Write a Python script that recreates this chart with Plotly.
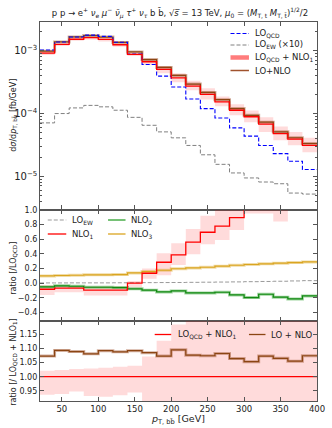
import plotly.graph_objects as go

# bins in p_T,bb [GeV]
bin_edges = [20, 40, 60, 80, 100, 120, 140, 160, 180, 200, 220, 240, 260, 280, 300, 320, 340, 360, 380, 400]

# top panel, dsigma/dpT [fb/GeV]
lo_qcd = [1.03e-3, 1.38e-3, 1.66e-3, 1.78e-3, 1.70e-3, 1.37e-3, 8.9e-4, 6.05e-4, 3.95e-4, 2.65e-4,
          1.71e-4, 1.20e-4, 8.5e-5, 5.9e-5, 4.36e-5, 3.1e-5, 2.3e-5, 1.74e-5, 1.28e-5]
lo_ew_x10 = [7.1e-5, 1.0e-4, 1.23e-4, 1.35e-4, 1.28e-4, 1.13e-4, 8.7e-5, 6.5e-5, 5.1e-5, 4.1e-5,
             3.1e-5, 2.2e-5, 1.55e-5, 1.13e-5, 9.4e-6, 8.1e-6, 7.6e-6, 5.4e-6, 5.2e-6]
lo_qcd_nlo1 = [9.2e-4, 1.27e-3, 1.53e-3, 1.62e-3, 1.52e-3, 1.25e-3, 8.8e-4, 6.7e-4, 5.07e-4, 3.7e-4,
               2.74e-4, 2.02e-4, 1.54e-4, 1.13e-4, 8.9e-5, 6.8e-5, 4.8e-5, 3.9e-5, 3.1e-5]
lo_nlo = [9.87e-4, 1.388e-3, 1.666e-3, 1.751e-3, 1.66e-3, 1.36e-3, 9.61e-4, 7.27e-4, 5.44e-4, 4.05e-4,
          2.95e-4, 2.17e-4, 1.666e-4, 1.202e-4, 9.37e-5, 7.3e-5, 5.11e-5, 4.11e-5, 3.33e-5]
# scale band of LO_QCD+NLO1, relative
band_hi = [1.021, 1.024, 1.027, 1.029, 1.032, 1.035, 1.039, 1.071, 1.127, 1.185,
           1.22, 1.25, 1.22, 1.24, 1.26, 1.28, 1.30, 1.30, 1.33]
band_lo = [0.936, 0.939, 0.948, 0.932, 0.929, 0.934, 0.944, 0.89, 0.87, 0.85,
           0.86, 0.83, 0.85, 0.83, 0.82, 0.75, 0.78, 0.80, 0.78]

# middle panel, ratio to LO_QCD
r_lo_ew = [0.004, 0.004, 0.005, 0.005, 0.005, 0.006, 0.007, 0.008, 0.009, 0.010,
           0.012, 0.014, 0.016, 0.018, 0.021, 0.024, 0.027, 0.031, 0.035]
r_nlo1 = [-0.082, -0.068, -0.068, -0.095, -0.095, -0.095, 0.0, 0.136, 0.286, 0.386,
          0.56, 0.695, 0.777, 0.895, 1.04, 1.19, 1.09, 1.24, 1.42]
r_nlo1_lo = [-0.16, -0.123, -0.123, -0.168, -0.168, -0.168, -0.06, 0.06, 0.11, 0.25,
             0.395, 0.53, 0.59, 0.727, 0.95, 0.95, 0.84, 1.05, 1.2]
r_nlo1_hi = [-0.023, -0.036, -0.036, -0.045, -0.045, -0.045, 0.03, 0.2, 0.41, 0.545,
             0.74, 0.92, 1.05, 1.1, 1.2, 1.3, 1.3, 1.4, 1.6]
r_nlo2 = [-0.05, -0.036, -0.041, -0.055, -0.055, -0.059, -0.077, -0.095, -0.118, -0.105,
          -0.132, -0.132, -0.123, -0.159, -0.195, -0.15, -0.19, -0.214, -0.173]
r_nlo3 = [0.10, 0.105, 0.109, 0.114, 0.114, 0.118, 0.141, 0.159, 0.177, 0.197,
          0.209, 0.218, 0.232, 0.245, 0.255, 0.264, 0.273, 0.282, 0.29]

# bottom panel, LO+NLO / (LO_QCD+NLO1)
r_lo_nlo = [1.073, 1.093, 1.089, 1.081, 1.092, 1.088, 1.092, 1.085, 1.073, 1.095,
            1.076, 1.074, 1.082, 1.064, 1.053, 1.073, 1.065, 1.055, 1.074]

FONT = "DejaVu Sans"
RED = "#ff0000"
PINK = "rgba(255,0,0,0.14)"
BROWN = "#8b4513"
BROWN_L = "rgba(160,82,45,0.45)"
GREEN = "#118811"
GREEN_L = "rgba(40,160,40,0.45)"
ORANGE = "#daa520"
ORANGE_L = "rgba(218,165,32,0.4)"


def st(v):
    # close the last bin for hv steps
    return list(v) + [v[-1]]


X = bin_edges
fig = go.Figure()


def line(y, color, width, ax, dash=None):
    fig.add_trace(go.Scatter(x=X, y=st(y), mode="lines", line_shape="hv",
                             line=dict(color=color, width=width, dash=dash),
                             xaxis=ax[0], yaxis=ax[1], showlegend=False, hoverinfo="skip"))


def band(lo, hi, color, ax):
    fig.add_trace(go.Scatter(x=X, y=st(lo), mode="lines", line_shape="hv", line=dict(width=0),
                             xaxis=ax[0], yaxis=ax[1], showlegend=False, hoverinfo="skip"))
    fig.add_trace(go.Scatter(x=X, y=st(hi), mode="lines", line_shape="hv", line=dict(width=0),
                             fill="tonexty", fillcolor=color,
                             xaxis=ax[0], yaxis=ax[1], showlegend=False, hoverinfo="skip"))


top = ("x", "y")
mid = ("x2", "y2")
bot = ("x3", "y3")

# top panel
band([a * b for a, b in zip(lo_qcd_nlo1, band_lo)], [a * b for a, b in zip(lo_qcd_nlo1, band_hi)], PINK, top)
line(lo_nlo, BROWN_L, 3, top)
line(lo_nlo, BROWN, 1.2, top)
line(lo_qcd, "#0000ff", 1.1, top, "4px,2px")
line(lo_ew_x10, "#808080", 1.0, top, "4px,2px")
line(lo_qcd_nlo1, RED, 1.3, top)

# middle panel
band(r_nlo1_lo, r_nlo1_hi, PINK, mid)
line(r_lo_ew, "#999999", 1.0, mid, "4px,2px")
line(r_nlo3, ORANGE_L, 3, mid)
line(r_nlo3, ORANGE, 1.2, mid)
line(r_nlo2, GREEN_L, 3, mid)
line(r_nlo2, GREEN, 1.2, mid)
line(r_nlo1, RED, 1.3, mid)

# bottom panel
band(band_lo, band_hi, PINK, bot)
line([v / v for v in lo_qcd_nlo1], RED, 1.3, bot)
line(r_lo_nlo, BROWN_L, 3, bot)
line(r_lo_nlo, BROWN, 1.2, bot)

# figure geometry (px)
W, H = 332, 428
L, R, T, B = 40, 7, 22, 27
PW, PH = W - L - R, H - T - B


def px(x):
    return (x - L) / PW


def py(y):
    return (H - B - y) / PH


ax_common = dict(showline=True, linecolor="#555555", linewidth=1.2, mirror="ticks",
                 ticks="inside", ticklen=4, tickcolor="#555555", showgrid=False, zeroline=False,
                 ticklabeloverflow="allow",
                 tickfont=dict(family=FONT, size=8, color="#222222"))

fig.update_layout(
    width=W, height=H, margin=dict(l=L, r=R, t=T, b=B),
    paper_bgcolor="white", plot_bgcolor="white", showlegend=False,
    font=dict(family=FONT, size=8, color="#222222"),
    title=dict(text="p p → e<sup>+</sup> <i>ν</i><sub>e</sub> <i>μ</i><sup>−</sup> <i>ν̄</i><sub><i>μ</i></sub>"
                    " <i>τ</i><sup>+</sup> <i>ν</i><sub><i>τ</i></sub> b b̄, √<i>s̅</i> = 13 TeV, "
                    "<i>μ</i><sub>0</sub> = (<i>M</i><sub>T, t</sub> <i>M</i><sub>T, t̄</sub>)<sup>1/2</sup>/2",
               x=px(184), xref="paper", xanchor="center", y=1 - 13 / H, yref="container", yanchor="middle",
               font=dict(family=FONT, size=8.5, color="#222222")),
    xaxis=dict(ax_common, domain=[0, 1], anchor="y", range=[20, 400], showticklabels=False,
               tickvals=[50, 100, 150, 200, 250, 300, 350, 400]),
    xaxis2=dict(ax_common, domain=[0, 1], anchor="y2", range=[20, 400], showticklabels=False,
                tickvals=[50, 100, 150, 200, 250, 300, 350, 400], matches="x"),
    xaxis3=dict(ax_common, domain=[0, 1], anchor="y3", range=[20, 400],
                tickvals=[50, 100, 150, 200, 250, 300, 350, 400], matches="x",
                tickfont=dict(family=FONT, size=8.5, color="#222222")),
    yaxis=dict(ax_common, domain=[py(209.5), 1], anchor="x", type="log", range=[-5.53, -2.54],
               dtick=1, exponentformat="power", showexponent="all",
               minor=dict(ticks="inside", ticklen=2, tickcolor="#555555")),
    yaxis2=dict(ax_common, domain=[py(321), py(209.5)], anchor="x2", range=[-0.515, 1.005],
                dtick=0.2, tick0=0, tickformat=".1f"),
    yaxis3=dict(ax_common, domain=[0, py(321)], anchor="x3", range=[0.914, 1.197],
                tickvals=[0.95, 1.0, 1.05, 1.1, 1.15], tickformat=".2f"),
)

shapes = []
ann = []


def text(x, y, s, size=8.5, angle=0, anchor="left"):
    ann.append(dict(x=px(x), y=py(y), xref="paper", yref="paper", text=s, showarrow=False,
                    xanchor=anchor, yanchor="middle", textangle=angle,
                    font=dict(family=FONT, size=size, color="#222222")))


def key(x0, x1, y, color, width, dash=None):
    shapes.append(dict(type="line", xref="paper", yref="paper", x0=px(x0), x1=px(x1),
                       y0=py(y), y1=py(y), line=dict(color=color, width=width, dash=dash)))


# axis titles
text(13, 115, "d<i>σ</i>/d<i>p</i><sub>T, bb̄</sub> [fb/GeV]", 8, -90, "center")
text(13, 268, "ratio [/LO<sub>QCD</sub>]", 8, -90, "center")
text(13, 362, "ratio [/ LO<sub>QCD</sub> + NLO<sub>1</sub>]", 8, -90, "center")
text(182, 419, "<i>p</i><sub>T, bb̄</sub> [GeV]", 9.5, 0, "center")

# top legend
key(236, 255, 33.5, "#0000ff", 1.1, "4px,2px")
text(259, 33.5, "LO<sub>QCD</sub>")
key(236, 255, 45, "#808080", 1.0, "4px,2px")
text(259, 45, "LO<sub>EW</sub> (×10)")
key(236, 255, 57.5, "rgba(255,80,80,0.75)", 4.5)
text(259, 57.5, "LO<sub>QCD</sub> + NLO<sub>1</sub>")
key(236, 255, 70.5, "#a0522d", 1.5)
text(259, 70.5, "LO+NLO")

# middle legend
key(48, 67, 220, "#999999", 1.0, "4px,2px")
text(71, 220, "LO<sub>EW</sub>")
key(48, 67, 234, RED, 1.3)
text(71, 234, "NLO<sub>1</sub>")
key(110, 128, 220, "#2ca02c", 1.3)
text(132, 220, "NLO<sub>2</sub>")
key(110, 128, 234, ORANGE, 1.3)
text(132, 234, "NLO<sub>3</sub>")

# bottom legend
key(158, 175, 334.5, RED, 1.3)
text(180, 334.5, "LO<sub>QCD</sub> + NLO<sub>1</sub>")
key(255, 272, 334.5, BROWN, 1.3)
text(276, 334.5, "LO + NLO")

fig.update_layout(shapes=shapes, annotations=ann)
fig.write_html("out.html", config={"displayModeBar": False},
               post_script="document.body.style.margin='0';document.body.style.padding='0';")
